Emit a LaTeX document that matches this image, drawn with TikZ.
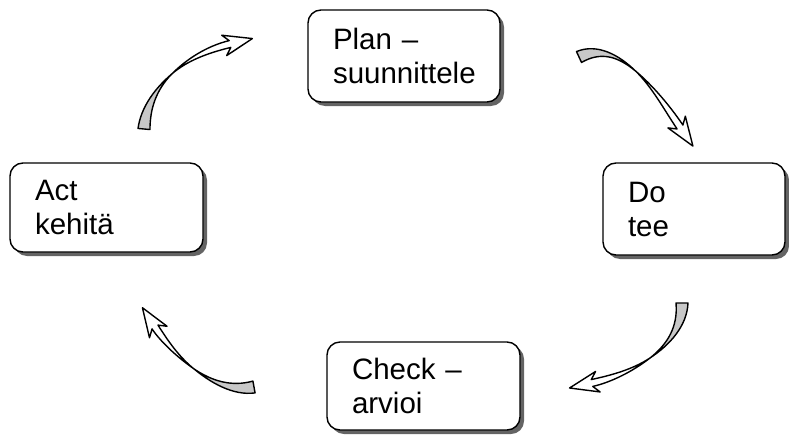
\documentclass[tikz,border=0pt]{standalone}
\usepackage{fontspec}
\setmainfont{Liberation Sans}
\usetikzlibrary{calc,shadows}
\definecolor{tailgray}{RGB}{200,200,200}
\definecolor{shadowgray}{RGB}{100,100,100}
\tikzset{
  box/.style={draw, line width=1.4pt, rounded corners=13pt, fill=white,
    align=left, inner xsep=25pt, inner ysep=0pt,
    font=\fontsize{29.5}{34}\selectfont,
    drop shadow={shadow xshift=4pt, shadow yshift=-4pt, fill=shadowgray, opacity=1}},
  arrowline/.style={draw=black, line width=1.4pt, line join=round}
}
\newcommand\twistarrow[5]{%
\coordinate (#1p0) at #2;
\coordinate (#1c1) at #3;
\coordinate (#1c2) at #4;
\coordinate (#1p3) at #5;
\coordinate (#1m01) at ($(#1p0)!0.5!(#1c1)$);
\coordinate (#1m12) at ($(#1c1)!0.5!(#1c2)$);
\coordinate (#1m23) at ($(#1c2)!0.5!(#1p3)$);
\coordinate (#1a) at ($(#1m01)!0.5!(#1m12)$);
\coordinate (#1b) at ($(#1m12)!0.5!(#1m23)$);
\coordinate (#1x) at ($(#1a)!0.5!(#1b)$);
\coordinate (#1bb) at ($(#1p3)!6pt!(#1m23)$);
\filldraw[arrowline, fill=tailgray]
  ($(#1p0)!6pt!90:(#1m01)$) .. controls ($(#1m01)!5pt!-90:(#1p0)$) and ($(#1a)!1pt!90:(#1x)$) .. (#1x)
  .. controls ($(#1a)!1pt!-90:(#1x)$) and ($(#1m01)!4pt!90:(#1p0)$) .. ($(#1p0)!6pt!-90:(#1m01)$) -- cycle;
\filldraw[arrowline, fill=white]
  (#1x) .. controls ($(#1b)!0.8pt!-90:(#1x)$) and ($(#1m23)!3.5pt!90:(#1p3)$) .. ($(#1p3)!3.5pt!-90:(#1m23)$)
  -- ($(#1bb)!10.5pt!-90:(#1m23)$) -- ($(#1p3)!-23pt!(#1m23)$) -- ($(#1bb)!10.5pt!90:(#1m23)$)
  -- ($(#1p3)!3.5pt!90:(#1m23)$) .. controls ($(#1m23)!3.5pt!-90:(#1p3)$) and ($(#1b)!0.8pt!90:(#1x)$) .. (#1x) -- cycle;
}
\begin{document}
\begin{tikzpicture}[x=1pt, y=-1pt]
\useasboundingbox (0,0) rectangle (789,436);
\node[box, text width=142pt, minimum width=192pt, minimum height=92pt] (plan) at (404,56) {Plan –\\suunnittele};
\node[box, text width=132pt, minimum width=182pt, minimum height=92pt] (do) at (694,209) {Do\\tee};
\node[box, text width=143pt, minimum width=193pt, minimum height=88pt] (check) at (423.5,386) {Check –\\arvioi};
\node[box, text width=143pt, minimum width=193pt, minimum height=89pt] (act) at (106.5,207.5) {Act\\kehitä};
\twistarrow{ar1}{(579,57)}{(620,38)}{(655,90)}{(680,127)}
\twistarrow{ar2}{(682,303)}{(682,350)}{(628,375)}{(592,383)}
\twistarrow{ar3}{(254,387)}{(210,395)}{(170,350)}{(155,327)}
\twistarrow{ar4}{(144,129)}{(148,85)}{(185,55)}{(230,44)}
\end{tikzpicture}
\end{document}
